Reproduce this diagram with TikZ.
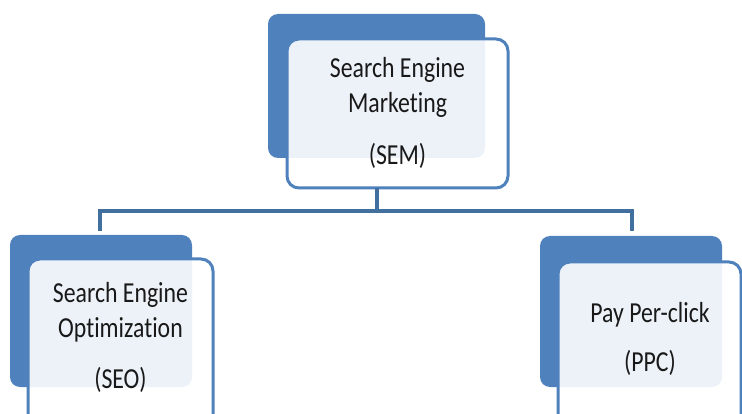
\documentclass[tikz,border=0pt]{standalone}
\usepackage{fontspec}
\setmainfont{Carlito}[Ligatures={NoCommon}]
\definecolor{semblue}{HTML}{4F81BD}
\definecolor{linkblue}{HTML}{41709E}
\begin{document}
\begin{tikzpicture}[x=1pt,y=-1pt,
  backbox/.style={fill=semblue, rounded corners=10pt, inner sep=0pt, outer sep=0pt},
  frontbox/.style={draw=semblue, line width=3pt, fill=white, fill opacity=0.9, draw opacity=1, rounded corners=12pt, inner sep=0pt, outer sep=0pt},
  link/.style={draw=linkblue, line width=3.5pt},
  boxlabel/.style={anchor=base, inner sep=0pt, text=black!90, font=\fontsize{29}{35}\selectfont}]
\useasboundingbox (0,0) rectangle (742,414);
\clip (0,0) rectangle (742,414);
\fill[white] (0,0) rectangle (742,414);
% connectors
\coordinate (j) at (377,211);
\coordinate (lh) at (100,211);
\coordinate (rh) at (632,211);
\coordinate (lv) at (100,231);
\coordinate (rv) at (632,231);
% top group
\node[backbox, minimum width=217pt, minimum height=144pt] (semback) at (376.5,86) {};
\node[frontbox, minimum width=221pt, minimum height=149pt] (semfront) at (397.5,113.5) {};
\draw[link] (semfront.south -| j) -- (j);
\draw[link] (lv) -- (lh) -- (rh) -- (rv);
\node[boxlabel] (semtext) at (397.5,78) {\scalebox{0.82}[1]{\begin{tabular}[t]{@{}c@{}}Search Engine\\Marketing\\[17pt](SEM)\end{tabular}}};
% left group
\node[backbox, minimum width=182pt, minimum height=152pt] (seoback) at (101,311) {};
\node[frontbox, minimum width=185pt, minimum height=181pt] (seofront) at (120.5,349.5) {};
\node[boxlabel] (seotext) at (120.5,302) {\scalebox{0.82}[1]{\begin{tabular}[t]{@{}c@{}}Search Engine\\Optimization\\[16pt](SEO)\end{tabular}}};
% right group
\node[backbox, minimum width=182pt, minimum height=151pt] (ppcback) at (631,311.5) {};
\node[frontbox, minimum width=183pt, minimum height=178pt] (ppcfront) at (649.5,351) {};
\node[boxlabel] (ppctext) at (650,322) {\scalebox{0.82}[1]{\begin{tabular}[t]{@{}c@{}}Pay Per-click\\[15pt](PPC)\end{tabular}}};
\end{tikzpicture}
\end{document}
